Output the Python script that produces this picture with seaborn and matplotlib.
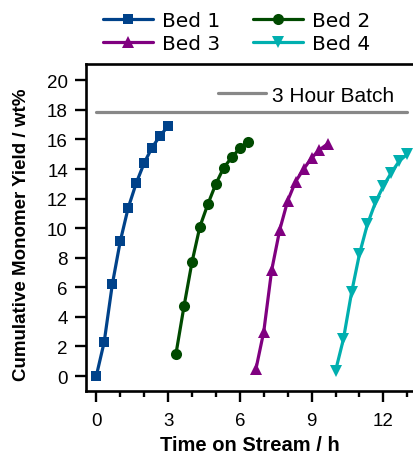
import matplotlib
matplotlib.use("Agg")
import matplotlib.pyplot as plt
import seaborn as sns
import pandas as pd

# Time on stream (h) and cumulative monomer yield (wt%) for each bed
bed1_time = [0.0, 0.33, 0.67, 1.0, 1.33, 1.67, 2.0, 2.33, 2.67, 3.0]
bed1_yield = [0.0, 2.3, 6.2, 9.1, 11.35, 13.05, 14.4, 15.45, 16.25, 16.9]

bed2_time = [3.33, 3.67, 4.0, 4.33, 4.67, 5.0, 5.33, 5.67, 6.0, 6.33]
bed2_yield = [1.5, 4.75, 7.7, 10.1, 11.65, 13.0, 14.1, 14.8, 15.4, 15.85]

bed3_time = [6.67, 7.0, 7.33, 7.67, 8.0, 8.33, 8.67, 9.0, 9.33, 9.67]
bed3_yield = [0.45, 3.0, 7.15, 9.9, 11.85, 13.15, 14.0, 14.75, 15.3, 15.7]

bed4_time = [10.0, 10.33, 10.67, 11.0, 11.33, 11.67, 12.0, 12.33, 12.67, 13.0]
bed4_yield = [0.35, 2.5, 5.65, 8.25, 10.25, 11.75, 12.85, 13.75, 14.55, 15.0]

batch_yield = 17.85
batch_span = [0.0, 13.0]

bed_labels = ["Bed 1", "Bed 2", "Bed 3", "Bed 4"]
bed_colors = ["#00428A", "#004A00", "#800080", "#00AFAF"]
bed_markers = ["s", "o", "^", "v"]
bed_msizes = [7, 8, 9, 9]

x_ticks = [0, 3, 6, 9, 12]
y_ticks = [0, 2, 4, 6, 8, 10, 12, 14, 16, 18, 20]

sns.set_style("ticks")
plt.rcParams["font.family"] = ["Liberation Sans", "DejaVu Sans"]
plt.rcParams["text.color"] = "black"
plt.rcParams["axes.labelcolor"] = "black"
plt.rcParams["xtick.color"] = "black"
plt.rcParams["ytick.color"] = "black"

fig = plt.figure(figsize=(4.14, 4.56), dpi=100)
ax = fig.add_axes([86 / 414, (456 - 391.7) / 456, (414 - 86) / 414, (391.7 - 65) / 456])

series = [
    (bed1_time, bed1_yield),
    (bed2_time, bed2_yield),
    (bed3_time, bed3_yield),
    (bed4_time, bed4_yield),
]
handles = []
for (t, y), lab, col, mk, ms in zip(series, bed_labels, bed_colors, bed_markers, bed_msizes):
    df = pd.DataFrame({"time": t, "yield": y})
    sns.lineplot(data=df, x="time", y="yield", ax=ax, color=col, marker=mk,
                 markersize=ms, markeredgewidth=0, linewidth=2.3, label=lab,
                 legend=False, zorder=3)
    handles.append(ax.lines[-1])

batch_line, = ax.plot(batch_span, [batch_yield, batch_yield], color="#888888",
                      linewidth=2.3, zorder=2, label="3 Hour Batch")

ax.set_xlim(-0.43, 13.28)
ax.set_ylim(-0.99, 21.1)
ax.set_xticks(x_ticks)
ax.set_xticks(range(0, 14), minor=True)
ax.set_yticks(y_ticks)
ax.set_xticklabels([str(v) for v in x_ticks])
ax.set_yticklabels([str(v) for v in y_ticks])

for side in ["left", "bottom", "top"]:
    ax.spines[side].set_linewidth(1.9)
    ax.spines[side].set_color("black")
ax.spines["right"].set_visible(False)

ax.tick_params(axis="both", which="major", direction="out", length=8, width=1.7,
               labelsize=13.5, labelcolor="black", color="black")
ax.tick_params(axis="x", which="major", pad=7)
ax.tick_params(axis="y", which="major", pad=5)
ax.tick_params(axis="x", which="minor", direction="out", length=4, width=1.7,
               color="black")

ax.set_xlabel("Time on Stream / h", fontsize=14.5, fontweight="bold", labelpad=5)
ax.set_ylabel("Cumulative Monomer Yield / wt%", fontsize=13.5, fontweight="bold")
ax.yaxis.set_label_coords(-0.172, 0.48)

# batch reference entry inside the axes
ax.legend(handles=[batch_line], labels=["3 Hour Batch"], loc="center left",
          bbox_to_anchor=(218 / 414, (456 - 96) / 456),
          bbox_transform=fig.transFigure, frameon=False, borderpad=0,
          borderaxespad=0, handlelength=2.3, handletextpad=0.3,
          prop={"family": "Liberation Sans", "size": 15})

# bed legend above the axes, filled row by row
order = [0, 2, 1, 3]
fig.legend(handles=[handles[i] for i in order],
           labels=[bed_labels[i] for i in order], ncol=2, loc="upper left",
           bbox_to_anchor=(91 / 414, 1.0), frameon=False,
           prop={"family": "DejaVu Sans", "size": 14.5}, handlelength=2.5,
           handletextpad=0.45, columnspacing=1.6, labelspacing=0.2,
           borderpad=0.1)

fig.savefig("out.png", dpi=100)
